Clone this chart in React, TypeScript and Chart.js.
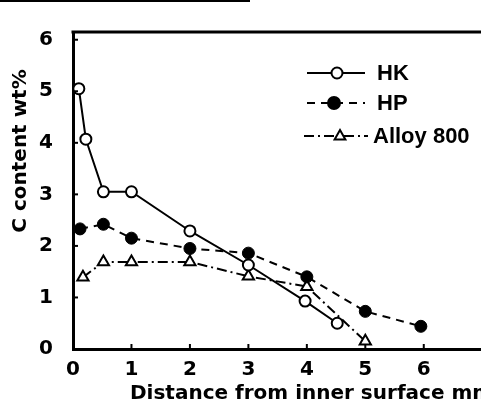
import React, { useEffect, useRef } from "react";
import { Chart, registerables } from "chart.js";

Chart.register(...registerables);

const hkX = [0.1, 0.22, 0.52, 1.0, 2.0, 3.0, 3.97, 4.52];
const hkY = [5.05, 4.07, 3.05, 3.05, 2.29, 1.63, 0.93, 0.5];
const hpX = [0.12, 0.52, 1.0, 2.0, 3.0, 4.0, 5.0, 5.95];
const hpY = [2.33, 2.42, 2.15, 1.95, 1.86, 1.4, 0.73, 0.44];
const alloyX = [0.17, 0.52, 1.0, 2.0, 3.0, 4.0, 5.0];
const alloyY = [1.39, 1.69, 1.69, 1.69, 1.41, 1.21, 0.15];
const seriesNames = ["HK", "HP", "Alloy 800"];
const xTicks = [0, 1, 2, 3, 4, 5, 6];
const yTicks = [0, 1, 2, 3, 4, 5, 6];
const xTitle = "Distance from inner surface mm";
const yTitle = "C content wt%";

const FONT = "'DejaVu Sans', sans-serif";
const LFONT = "'Liberation Sans', Arial, sans-serif";

const toPts = (xs: number[], ys: number[]) => xs.map((x, i) => ({ x, y: ys[i] }));

const decorPlugin = {
  id: "decor",
  afterDraw(chart: any) {
    const ctx = chart.ctx;
    const { left, right, top, bottom } = chart.chartArea;
    const xs = chart.scales.x;
    const ys = chart.scales.y;
    ctx.save();
    ctx.strokeStyle = "#000";
    // top frame
    ctx.lineWidth = 3;
    ctx.beginPath();
    ctx.moveTo(left - 1.5, top);
    ctx.lineTo(right, top);
    ctx.stroke();
    // inward ticks
    ctx.lineWidth = 2;
    xTicks.forEach((v) => {
      if (v === 0) return;
      const px = xs.getPixelForValue(v);
      ctx.beginPath();
      ctx.moveTo(px, bottom);
      ctx.lineTo(px, bottom - 5);
      ctx.stroke();
    });
    yTicks.forEach((v) => {
      if (v === 0) return;
      const py = ys.getPixelForValue(v);
      ctx.beginPath();
      ctx.moveTo(left, py);
      ctx.lineTo(left + 5, py);
      ctx.stroke();
    });
    // titles
    ctx.fillStyle = "#000";
    ctx.font = `bold 20px ${FONT}`;
    ctx.textBaseline = "middle";
    ctx.textAlign = "left";
    ctx.fillText(xTitle, 130, 394);
    ctx.save();
    ctx.translate(21, 151);
    ctx.rotate(-Math.PI / 2);
    ctx.textAlign = "center";
    ctx.fillText(yTitle, 0, 0);
    ctx.restore();
    // legend
    const rows = [
      { y: 73, x0: 307, x1: 365, mx: 337, tx: 377 },
      { y: 103, x0: 307, x1: 365, mx: 334, tx: 377 },
      { y: 136, x0: 304, x1: 368, mx: 340, tx: 373 },
    ];
    chart.data.datasets.forEach((ds: any, i: number) => {
      const r = rows[i];
      ctx.lineWidth = 2;
      ctx.setLineDash(ds.borderDash || []);
      ctx.beginPath();
      ctx.moveTo(r.x0, r.y);
      ctx.lineTo(r.x1, r.y);
      ctx.stroke();
      ctx.setLineDash([]);
      ctx.fillStyle = ds.pointBackgroundColor;
      ctx.beginPath();
      if (ds.pointStyle === "triangle") {
        const s = 6;
        ctx.moveTo(r.mx, r.y - s);
        ctx.lineTo(r.mx + s * 0.9, r.y + s * 0.6);
        ctx.lineTo(r.mx - s * 0.9, r.y + s * 0.6);
        ctx.closePath();
      } else {
        ctx.arc(r.mx, r.y, ds.pointRadius, 0, Math.PI * 2);
      }
      ctx.fill();
      ctx.stroke();
      ctx.fillStyle = "#000";
      ctx.font = `bold 22px ${LFONT}`;
      ctx.textAlign = "left";
      ctx.fillText(ds.label, r.tx, r.y + 1);
    });
    ctx.restore();
  },
};

export default function App() {
  const ref = useRef<HTMLCanvasElement>(null);
  useEffect(() => {
    if (!ref.current) return;
    const chart = new Chart(ref.current, {
      type: "line",
      data: {
        datasets: [
          {
            label: seriesNames[0],
            data: toPts(hkX, hkY),
            borderColor: "#000",
            borderWidth: 2,
            pointStyle: "circle",
            pointRadius: 5.5,
            pointBorderWidth: 2,
            pointBackgroundColor: "#fff",
            pointBorderColor: "#000",
            tension: 0,
          },
          {
            label: seriesNames[1],
            data: toPts(hpX, hpY),
            borderColor: "#000",
            borderWidth: 2,
            borderDash: [8, 6],
            pointStyle: "circle",
            pointRadius: 6,
            pointBorderWidth: 1,
            pointBackgroundColor: "#000",
            pointBorderColor: "#000",
            tension: 0,
          },
          {
            label: seriesNames[2],
            data: toPts(alloyX, alloyY),
            borderColor: "#000",
            borderWidth: 2,
            borderDash: [10, 4, 2, 4],
            pointStyle: "triangle",
            pointRadius: 6.5,
            pointBorderWidth: 2,
            pointBackgroundColor: "#fff",
            pointBorderColor: "#000",
            tension: 0,
          },
        ],
      },
      options: {
        animation: false,
        responsive: false,
        layout: { padding: { top: 14, left: 0, right: 0, bottom: 0 } },
        plugins: { legend: { display: false }, tooltip: { enabled: false } },
        scales: {
          x: {
            type: "linear",
            min: 0,
            max: (560 - 73) / 59.5,
            afterBuildTicks: (s: any) => {
              s.ticks = xTicks.map((v) => ({ value: v }));
            },
            afterFit: (s: any) => {
              s.height = 54;
            },
            grid: { display: false, drawTicks: false },
            border: { display: true, color: "#000", width: 3 },
            ticks: {
              padding: 9,
              color: "#000",
              maxRotation: 0,
              autoSkip: false,
              font: { family: FONT, size: 20, weight: "bold" },
            },
          },
          y: {
            type: "linear",
            min: 0,
            max: 6.15,
            afterBuildTicks: (s: any) => {
              s.ticks = yTicks.map((v) => ({ value: v }));
            },
            afterFit: (s: any) => {
              s.width = 73;
            },
            grid: { display: false, drawTicks: false },
            border: { display: true, color: "#000", width: 3 },
            ticks: {
              padding: 20,
              color: "#000",
              autoSkip: false,
              font: { family: FONT, size: 20, weight: "bold" },
            },
          },
        },
      },
      plugins: [decorPlugin],
    });
    return () => chart.destroy();
  }, []);
  return (
    <div
      style={{
        position: "absolute",
        left: 0,
        top: 0,
        width: 481,
        height: 403,
        overflow: "hidden",
        background: "#fff",
      }}
    >
      <div
        style={{ position: "absolute", left: 0, top: 0, width: 250, height: 2, background: "#000" }}
      />
      <canvas ref={ref} width={560} height={403} style={{ display: "block" }} />
    </div>
  );
}
